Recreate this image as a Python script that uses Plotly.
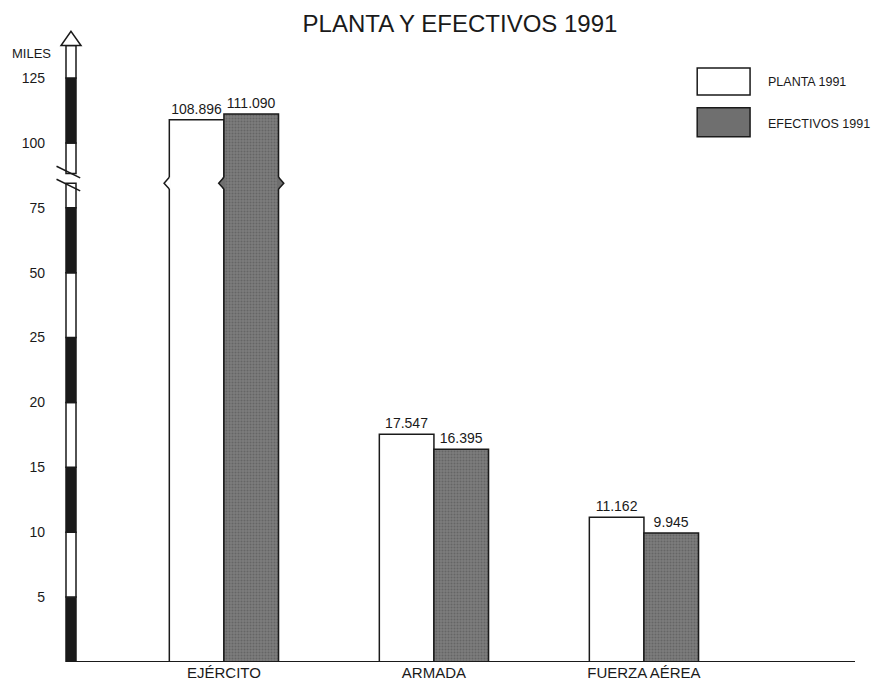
import numpy as np
import plotly.graph_objects as go

# data (miles de personas)
categories = ["EJÉRCITO", "ARMADA", "FUERZA AÉREA"]
planta_1991 = [108.896, 17.547, 11.162]
efectivos_1991 = [111.090, 16.395, 9.945]

# broken, non-uniform scale of the original chart
tick_values = [0, 5, 10, 15, 20, 25, 50, 75, 100, 125]
tick_labels = ["", "5", "10", "15", "20", "25", "50", "75", "100", "125"]

FONT = "Liberation Sans, Arial, sans-serif"
GREY = "#6f6f6f"
INK = "#1a1a1a"
W, H = 876, 685
PW = 789  # plot area width in px


def to_axis(v):
    return np.interp(v, tick_values, np.arange(len(tick_values)))


def fmt(v):
    return f"{v:.3f}"


fig = go.Figure()
fig.add_bar(
    x=categories, y=to_axis(planta_1991), name="PLANTA 1991",
    marker=dict(color="white", line=dict(color=INK, width=1.5)),
    text=[fmt(v) for v in planta_1991], textposition="outside",
    textfont=dict(size=14, color=INK), cliponaxis=False,
)
fig.add_bar(
    x=categories, y=to_axis(efectivos_1991), name="EFECTIVOS 1991",
    marker=dict(color=GREY, line=dict(color=INK, width=1.5),
                pattern=dict(shape=".", fgcolor="#4d4d4d", bgcolor="#7c7c7c", size=3, solidity=0.35)),
    text=[fmt(v) for v in efectivos_1991], textposition="outside",
    textfont=dict(size=14, color=INK), cliponaxis=False,
)

shapes = []
# segmented axis bar
ax0, ax1 = 0.0, 10 / PW
idx = np.arange(len(tick_values))
brk_lo, brk_hi = 7.38, 7.53
for i in range(len(tick_values) - 1):
    fill = INK if i % 2 == 0 else "white"
    pieces = [(idx[i], idx[i + 1])]
    if tick_values[i] == 75:
        pieces = [(idx[i], brk_lo), (brk_hi, idx[i + 1])]
    for lo, hi in pieces:
        shapes.append(dict(type="rect", xref="paper", yref="y", x0=ax0, x1=ax1, y0=lo, y1=hi,
                           fillcolor=fill, line=dict(color=INK, width=1.5), layer="above"))
# stem above 125 and hollow arrow head
shapes.append(dict(type="rect", xref="paper", yref="y", x0=ax0, x1=ax1, y0=9, y1=9.5,
                   fillcolor="white", line=dict(color=INK, width=1.5)))
shapes.append(dict(type="path", xref="paper", yref="y",
                   path="M -0.0063,9.5 L 0.019,9.5 L 0.0063,9.72 Z",
                   fillcolor="white", line=dict(color=INK, width=1.5)))
# break marks
for y0, y1 in [(7.64, 7.46), (7.44, 7.26)]:
    shapes.append(dict(type="line", xref="paper", yref="y", x0=-0.012, x1=0.018, y0=y0, y1=y1,
                       line=dict(color=INK, width=1.5)))
# baseline
shapes.append(dict(type="line", xref="paper", yref="y", x0=0, x1=1, y0=0, y1=0,
                   line=dict(color=INK, width=2)))

# notches marking the cut in the EJÉRCITO bars
ny, na, nd = 7.38, 0.09, 0.025
for xe, fill, sgn in [(-0.26, "white", -1), (0.0, GREY, -1), (0.26, GREY, 1)]:
    shapes.append(dict(type="line", xref="x", yref="y", x0=xe, x1=xe, y0=ny - na, y1=ny + na,
                       line=dict(color=fill, width=3)))
    shapes.append(dict(type="path", xref="x", yref="y",
                       path=f"M {xe},{ny + na} L {xe + sgn * nd},{ny} L {xe},{ny - na}",
                       fillcolor=fill, line=dict(color=INK, width=1.5)))

# legend boxes
shapes.append(dict(type="rect", xref="paper", yref="paper", x0=0.80, x1=0.867, y0=0.897, y1=0.94,
                   fillcolor="white", line=dict(color=INK, width=1.5)))
shapes.append(dict(type="rect", xref="paper", yref="paper", x0=0.80, x1=0.867, y0=0.831, y1=0.877,
                   fillcolor=GREY, line=dict(color=INK, width=1.5)))

annotations = [
    dict(text="PLANTA 1991", xref="paper", yref="paper", x=0.887, y=0.918, xanchor="left",
         yanchor="middle", showarrow=False, font=dict(size=12.5, color=INK)),
    dict(text="EFECTIVOS 1991", xref="paper", yref="paper", x=0.887, y=0.852, xanchor="left",
         yanchor="middle", showarrow=False, font=dict(size=12.5, color=INK)),
    dict(text="MILES", xref="paper", yref="y", x=-13 / PW, y=9.38, xanchor="right",
         yanchor="middle", showarrow=False, font=dict(size=13, color=INK)),
]

fig.update_layout(
    width=W, height=H,
    title=dict(text="PLANTA Y EFECTIVOS 1991", x=452 / W, xanchor="center", y=1 - 16 / H,
               yanchor="middle", font=dict(size=24, color=INK)),
    font=dict(family=FONT, color=INK),
    paper_bgcolor="white", plot_bgcolor="white",
    margin=dict(l=58, r=W - 58 - PW, t=22, b=31),
    barmode="group", bargap=0.48, bargroupgap=0,
    showlegend=False,
    shapes=shapes, annotations=annotations,
)
fig.update_xaxes(range=[-0.752, 3.005], showgrid=False, showline=False, zeroline=False,
                 ticks="", tickfont=dict(size=15, color=INK))
fig.update_yaxes(range=[0, 9.74], tickvals=idx, ticktext=tick_labels, showgrid=False,
                 showline=False, zeroline=False, ticks="", ticklabelstandoff=20,
                 tickfont=dict(size=14, color=INK))

fig.write_html("out.html")
